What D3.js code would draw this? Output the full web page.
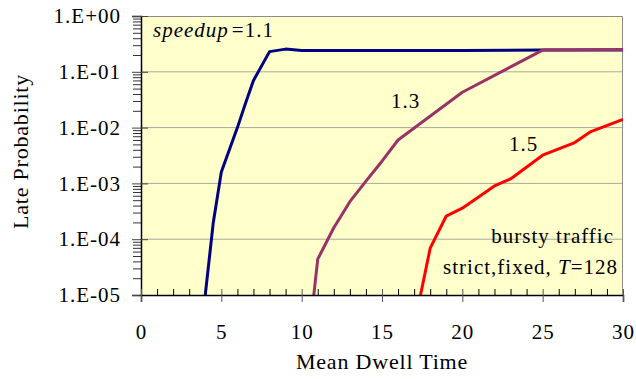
<!DOCTYPE html>
<html lang="en">
<head>
    <meta charset="UTF-8">
    <title>Late Probability</title>
    <script src="https://d3js.org/d3.v7.min.js"></script>
    <style>
        body { margin: 0; background: #fff; }
        text { font-family: "Liberation Serif", serif; fill: #000; }
    </style>
</head>
<body>
<script type="text/javascript">
    var svgWidth = 636;
    var svgHeight = 379;
    var margin = {top: 16, right: 13, bottom: 84, left: 141};
    var w = svgWidth - margin.left - margin.right;
    var h = svgHeight - margin.top - margin.bottom;

    // speedup = 1.1
    var x11 = [4, 4.5, 5, 6, 6.5, 7, 8, 9, 10, 15, 20, 25, 30];
    var y11 = [1e-5, 2e-4, 1.6e-3, 1e-2, 2.7e-2, 7e-2, 0.23, 0.255, 0.24, 0.24, 0.24, 0.245, 0.245];
    // speedup = 1.3
    var x13 = [10, 11, 12, 13, 14, 15, 16, 20, 25, 30];
    var y13 = [1e-7, 4.4e-5, 1.6e-4, 4.7e-4, 1.1e-3, 2.5e-3, 6e-3, 4.3e-2, 0.245, 0.25];
    // speedup = 1.5
    var x15 = [17, 18, 19, 20, 22, 23, 25, 27, 28, 30];
    var y15 = [2.8e-6, 6.9e-5, 2.6e-4, 3.6e-4, 9e-4, 1.2e-3, 3.2e-3, 5.4e-3, 8.5e-3, 1.4e-2];

    var seriesColors = ["#000080", "#993366", "#ff0000"];
    var yTicks = [1, 1e-1, 1e-2, 1e-3, 1e-4, 1e-5];
    var yTickLabels = ["1.E+00", "1.E-01", "1.E-02", "1.E-03", "1.E-04", "1.E-05"];
    var xTicks = [0, 5, 10, 15, 20, 25, 30];

    var xScale = d3.scaleLinear().domain([0, 30]).range([0, w]);
    var yScale = d3.scaleLog().domain([1e-5, 1]).range([h, 0]);

    var svg = d3.select("body").append("svg")
        .attr("width", svgWidth)
        .attr("height", svgHeight);
    var g = svg.append("g")
        .attr("transform", "translate(" + margin.left + "," + margin.top + ")");

    g.append("rect")
        .attr("width", w)
        .attr("height", h)
        .attr("fill", "#ffffcc");

    // gridlines
    g.selectAll(".grid")
        .data(yTicks.slice(1, 5))
        .enter()
        .append("line")
        .attr("x1", 0).attr("x2", w)
        .attr("y1", function (d) { return yScale(d); })
        .attr("y2", function (d) { return yScale(d); })
        .attr("stroke", "#a8a8a0")
        .attr("stroke-width", 1);

    // border top/right
    g.append("path")
        .attr("d", "M0,0.5H" + (w - 0.5) + "V" + h)
        .attr("fill", "none")
        .attr("stroke", "#8c8c8c");

    g.append("clipPath").attr("id", "clip")
        .append("rect").attr("width", w).attr("height", h);

    var line = d3.line()
        .x(function (d) { return xScale(d[0]); })
        .y(function (d) { return yScale(d[1]); });

    var series = [d3.zip(x11, y11), d3.zip(x13, y13), d3.zip(x15, y15)];
    g.append("g").attr("clip-path", "url(#clip)")
        .selectAll("path")
        .data(series)
        .enter()
        .append("path")
        .attr("d", line)
        .attr("fill", "none")
        .attr("stroke", function (d, i) { return seriesColors[i]; })
        .attr("stroke-width", 3)
        .attr("stroke-linejoin", "round");

    // y minor ticks
    var yMinor = [];
    yTicks.slice(1).forEach(function (d) {
        for (var k = 2; k <= 9; k++) yMinor.push(d * k);
    });
    g.append("g")
        .call(d3.axisLeft(yScale).tickValues(yMinor).tickSize(8).tickFormat(""))
        .call(function (a) {
            a.select(".domain").remove();
            a.selectAll("line").attr("stroke", "#333");
        });

    // y axis
    var yAxis = d3.axisLeft(yScale)
        .tickValues(yTicks)
        .tickSize(9)
        .tickPadding(11)
        .tickFormat(function (d, i) { return yTickLabels[i]; });
    g.append("g")
        .call(yAxis)
        .call(function (a) {
            a.select(".domain").attr("stroke", "#000").attr("stroke-width", 1.5);
            a.selectAll(".tick line").attr("x1", 7).attr("stroke", "#444");
            a.selectAll("text")
                .attr("font-size", "21px")
                .attr("letter-spacing", "1px")
                .attr("font-family", "Liberation Serif");
        });

    // x minor ticks
    var xMinor = d3.range(1, 30).filter(function (d) { return d % 5 !== 0; });
    g.append("g")
        .attr("transform", "translate(0," + h + ")")
        .call(d3.axisBottom(xScale).tickValues(xMinor).tickSize(-6).tickFormat(""))
        .call(function (a) {
            a.select(".domain").remove();
            a.selectAll("line").attr("stroke", "#000");
        });

    // x axis
    var xAxis = d3.axisBottom(xScale)
        .tickValues(xTicks)
        .tickSize(7)
        .tickPadding(22);
    g.append("g")
        .attr("transform", "translate(0," + h + ")")
        .call(xAxis)
        .call(function (a) {
            a.select(".domain").attr("stroke", "#000").attr("stroke-width", 1.5);
            a.selectAll(".tick line").attr("y1", -6).attr("stroke", "#555");
            a.selectAll("text")
                .attr("font-size", "21px")
                .attr("letter-spacing", "1px")
                .attr("font-family", "Liberation Serif");
        });

    // axis titles
    svg.append("text")
        .attr("x", margin.left + w / 2)
        .attr("y", 369)
        .attr("text-anchor", "middle")
        .attr("font-size", "22px")
        .attr("letter-spacing", "0.8px")
        .text("Mean Dwell Time");
    svg.append("text")
        .attr("transform", "translate(28," + (margin.top + h / 2 - 4) + ") rotate(-90)")
        .attr("text-anchor", "middle")
        .attr("font-size", "22px")
        .attr("letter-spacing", "0.8px")
        .text("Late Probability");

    // annotations
    var t1 = svg.append("text")
        .attr("x", 153)
        .attr("y", 37)
        .attr("font-size", "21px")
        .attr("letter-spacing", "1px");
    t1.append("tspan").attr("font-style", "italic").text("speedup");
    t1.append("tspan").attr("dx", 3).text("=1.1");

    svg.append("text").attr("x", 391).attr("y", 108).attr("font-size", "21px")
        .attr("letter-spacing", "1px").text("1.3");
    svg.append("text").attr("x", 509).attr("y", 151).attr("font-size", "21px")
        .attr("letter-spacing", "1px").text("1.5");

    svg.append("text")
        .attr("x", 614).attr("y", 243)
        .attr("text-anchor", "end")
        .attr("font-size", "21px")
        .attr("letter-spacing", "1px")
        .text("bursty traffic");
    var t2 = svg.append("text")
        .attr("x", 618).attr("y", 274)
        .attr("text-anchor", "end")
        .attr("font-size", "21px")
        .attr("letter-spacing", "1px");
    t2.append("tspan").text("strict,fixed, ");
    t2.append("tspan").attr("font-style", "italic").text("T");
    t2.append("tspan").text("=128");
</script>
</body>
</html>
